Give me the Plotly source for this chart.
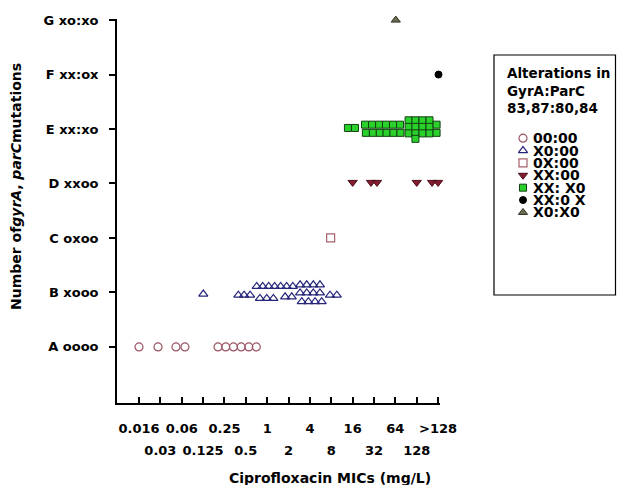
import plotly.graph_objects as go

# ---------------- data ----------------
mic_labels = ["0.016", "0.03", "0.06", "0.125", "0.25", "0.5", "1", "2",
              "4", "8", "16", "32", "64", "128", ">128"]
mutation_labels = ["A oooo", "B xooo", "C oxoo", "D xxoo", "E xx:xo", "F xx:ox", "G xo:xo"]

series_names = ["00:00", "X0:00", "0X:00", "XX:00", "XX: X0", "XX:0 X", "X0:X0"]
series_category = [0, 1, 2, 3, 4, 5, 6]

# x = position on MIC ladder (0 = 0.016 mg/L ... 14 = >128 mg/L), jittered as in the original
# dy = vertical jitter inside a mutation category
a_x = [0.00, 0.89, 1.73, 2.15, 3.70, 4.06, 4.42, 4.78, 5.14, 5.49]
a_dy = [0, 0, 0, 0, 0, 0, 0, 0, 0, 0]

b_x = [3.01,
       4.65, 4.92, 5.20,
       5.51, 5.79, 6.07, 6.35, 6.63, 6.91, 7.20,
       7.54, 7.85, 8.16, 8.47,
       5.66, 5.98, 6.29,
       6.84, 7.15,
       7.54, 7.85, 8.16, 8.47,
       7.62, 7.93, 8.24, 8.55,
       8.94, 9.26]
b_dy = [-0.03,
        -0.05, -0.05, -0.05,
        0.11, 0.11, 0.11, 0.11, 0.11, 0.11, 0.11,
        0.14, 0.14, 0.14, 0.14,
        -0.11, -0.11, -0.11,
        -0.08, -0.08,
        -0.01, -0.01, -0.01, -0.01,
        -0.17, -0.17, -0.17, -0.17,
        -0.05, -0.05]

c_x = [8.97]
c_dy = [0]

d_x = [10.00, 10.86, 11.14, 13.00, 13.72, 14.00, 14.28]
d_dy = [0.02, 0.02, 0.02, 0.02, 0.02, 0.02, 0.02]

e_x = [9.78, 10.11,
       10.58, 10.91, 11.24, 11.56, 11.89, 12.22,
       10.62, 10.95, 11.27, 11.59, 11.91, 12.24,
       12.62, 12.94, 13.27, 13.60,
       12.62, 12.94, 13.27, 13.60,
       12.62, 12.94, 13.27, 13.60,
       12.94,
       13.93, 14.26,
       13.93, 14.26]
e_dy = [0.02, 0.02,
        0.08, 0.08, 0.08, 0.08, 0.08, 0.08,
        -0.07, -0.07, -0.07, -0.07, -0.07, -0.07,
        0.16, 0.16, 0.16, 0.16,
        0.04, 0.04, 0.04, 0.04,
        -0.08, -0.08, -0.08, -0.08,
        -0.18,
        0.08, 0.08,
        -0.07, -0.07]

f_x = [14.02]
f_dy = [0]

g_x = [12.02]
g_dy = [0]

series_x = [a_x, b_x, c_x, d_x, e_x, f_x, g_x]
series_dy = [a_dy, b_dy, c_dy, d_dy, e_dy, f_dy, g_dy]

# ---------------- styles ----------------
FONT = "DejaVu Sans"
marker_styles = [
    dict(symbol="circle-open", size=8, color="#9a5563", line=dict(width=1.2, color="#9a5563")),
    dict(symbol="triangle-up-open", size=8, color="#26267a", line=dict(width=1.2, color="#26267a")),
    dict(symbol="square-open", size=8, color="#a4606a", line=dict(width=1.2, color="#a4606a")),
    dict(symbol="triangle-down", size=8, color="#861c30", line=dict(width=1, color="#4a0e18")),
    dict(symbol="square", size=7, color="#2bd12b", line=dict(width=1, color="#124012")),
    dict(symbol="circle", size=7, color="#000000", line=dict(width=1, color="#000000")),
    dict(symbol="triangle-up", size=8, color="#6e6e52", line=dict(width=1, color="#2e2e20")),
]

# page has an 8px body margin on every side: figure sized so nothing overflows the window
OFF = 8
W, H = 625 - 2 * OFF, 493 - 2 * OFF


def fx(px):
    return (px - OFF) / W


def fy(py):
    return 1 - (py - OFF) / H


PL, PR, PT, PB = 117, 440, 19, 403   # plot area in window pixels

fig = go.Figure()

for name, cat, xs, dys, ms in zip(series_names, series_category, series_x, series_dy, marker_styles):
    fig.add_trace(go.Scatter(
        x=xs, y=[cat + d for d in dys], mode="markers", name=name,
        marker=ms, cliponaxis=False, showlegend=False, xaxis="x", yaxis="y"))

# custom compact legend (symbols)
for i, (name, ms) in enumerate(zip(series_names, marker_styles)):
    fig.add_trace(go.Scatter(
        x=[0], y=[i], mode="markers", marker=ms, cliponaxis=False,
        showlegend=False, xaxis="x2", yaxis="y2", hoverinfo="skip"))

# dummy trace for second row of MIC labels
fig.add_trace(go.Scatter(x=[], y=[], xaxis="x3", yaxis="y", showlegend=False))

odd = list(range(1, 15, 2))

legend_label_annots = [
    dict(text=name, xref="paper", yref="y2", x=fx(531), y=i, xanchor="left",
         yanchor="middle", showarrow=False,
         font=dict(family=FONT, size=14, weight="bold", color="black"))
    for i, name in enumerate(series_names)
]

fig.update_layout(
    width=W, height=H,
    margin=dict(l=0, r=0, t=0, b=0),
    paper_bgcolor="white", plot_bgcolor="white",
    font=dict(family=FONT, size=13, color="black", weight="bold"),
    showlegend=False,
    xaxis=dict(
        domain=[fx(PL), fx(PR)], range=[-1.03, 14.09],
        tickmode="array", tickvals=list(range(15)),
        ticktext=[mic_labels[i] if i % 2 == 0 else "" for i in range(15)],
        ticks="inside", ticklen=6, tickwidth=1.5, tickcolor="black",
        showline=True, linewidth=1.8, linecolor="black",
        showgrid=False, zeroline=False, automargin=False,
        ticklabelstandoff=12,
        tickfont=dict(family=FONT, size=13, weight="bold"),
        anchor="y",
    ),
    xaxis3=dict(
        overlaying="x", matches="x", anchor="y", side="bottom",
        tickmode="array", tickvals=odd, ticktext=[mic_labels[i] for i in odd],
        ticks="", showline=False, showgrid=False, zeroline=False, automargin=False,
        ticklabelstandoff=38,
        tickfont=dict(family=FONT, size=13, weight="bold"),
    ),
    yaxis=dict(
        domain=[fy(PB), fy(PT)], range=[-1.03, 6.02],
        tickmode="array", tickvals=series_category, ticktext=mutation_labels,
        ticks="outside", ticklen=6, tickwidth=1.5, tickcolor="black",
        showline=True, linewidth=1.8, linecolor="black",
        showgrid=False, zeroline=False, automargin=False,
        ticklabelstandoff=8,
        tickfont=dict(family=FONT, size=13, weight="bold"),
        anchor="x",
    ),
    xaxis2=dict(domain=[fx(513), fx(533)], range=[-1, 1], visible=False, anchor="y2",
                fixedrange=True),
    yaxis2=dict(domain=[fy(218.6), fy(132)], range=[6.5, -0.5], visible=False,
                anchor="x2", fixedrange=True),
    shapes=[dict(type="rect", xref="paper", yref="paper",
                 x0=fx(494), x1=fx(615.5), y0=fy(295), y1=fy(55),
                 line=dict(color="black", width=1.2), fillcolor="rgba(0,0,0,0)")],
    annotations=[
        dict(text="Alterations in<br>GyrA:ParC<br>83,87:80,84", xref="paper", yref="paper",
             x=fx(505), y=fy(63), xanchor="left", yanchor="top", align="left",
             showarrow=False, font=dict(family=FONT, size=13.5, weight="bold")),
        dict(text="Ciprofloxacin MICs (mg/L)", xref="paper", yref="paper",
             x=fx(330), y=fy(478), xanchor="center", yanchor="middle",
             showarrow=False, font=dict(family=FONT, size=14, weight="bold")),
        dict(text="Number of<i>gyrA</i>, <i>parC</i>mutations", xref="paper", yref="paper",
             x=fx(16), y=fy(187), xanchor="center", yanchor="middle", textangle=-90,
             showarrow=False, font=dict(family=FONT, size=14, weight="bold")),
    ] + legend_label_annots,
)

fig.write_html("out.html")
